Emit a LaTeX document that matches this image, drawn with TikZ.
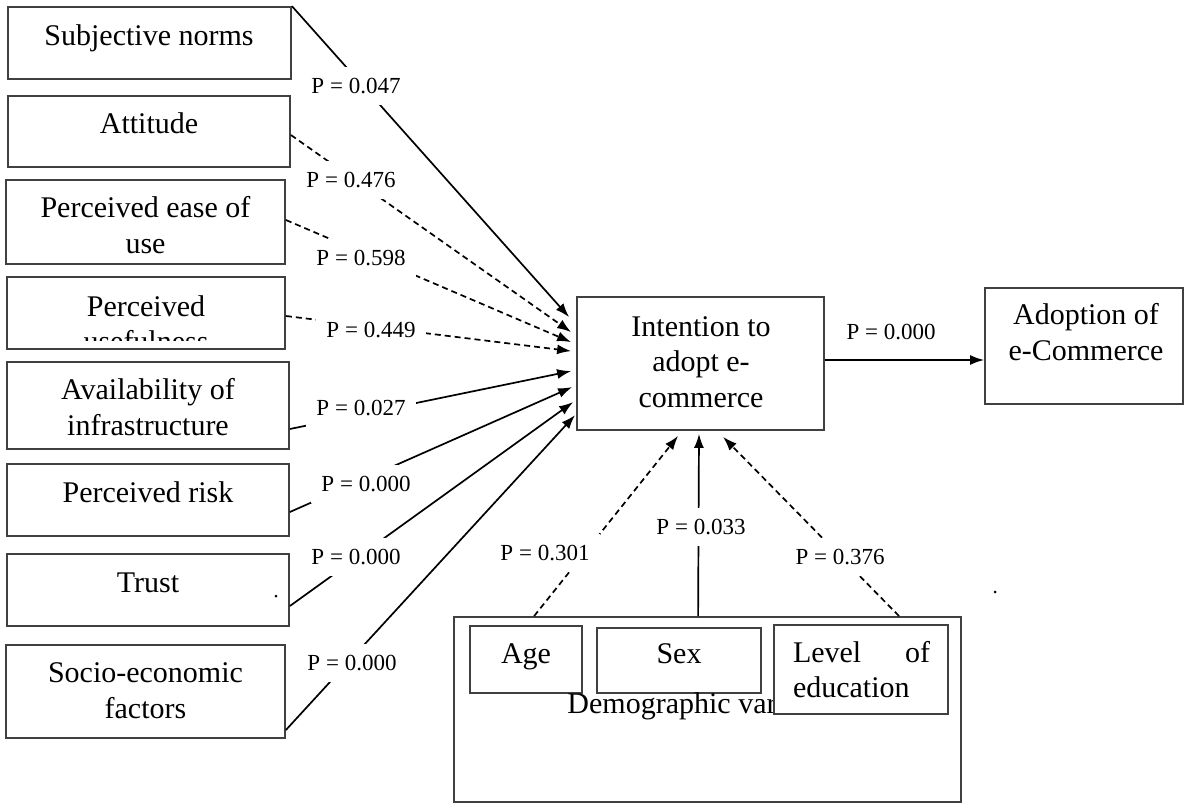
\documentclass[tikz,border=0pt]{standalone}
\usepackage{fontspec}
\setmainfont{Liberation Serif}
\usetikzlibrary{arrows.meta}
\begin{document}
\begin{tikzpicture}[x=1pt,y=-1pt,
  box/.style={draw=black!75, line width=1.8pt, inner sep=0pt, rectangle},
  boxtext/.style={font=\fontsize{30}{35.5}\selectfont, align=center, anchor=base, inner sep=0pt},
  plabel/.style={font=\fontsize{23}{27}\selectfont, fill=white, inner xsep=10pt, inner ysep=11pt},
  conn/.style={line width=1.7pt, -{Latex[length=14pt,width=10pt]}},
  dconn/.style={conn, dash pattern=on 6pt off 4pt},
]
\useasboundingbox (0,0) rectangle (1195,806);

% left boxes
\node[box, minimum width=283pt, minimum height=72pt] (sn) at (149.5,43) {};
\node[box, minimum width=282pt, minimum height=71pt] (att) at (149,131.5) {};
\node[box, minimum width=279pt, minimum height=84pt] (peou) at (145.5,222) {};
\node[box, minimum width=278pt, minimum height=72pt] (pu) at (146,313) {};
\node[box, minimum width=282pt, minimum height=87pt] (avail) at (148,405.5) {};
\node[box, minimum width=282pt, minimum height=72pt] (risk) at (148,500) {};
\node[box, minimum width=282pt, minimum height=72pt] (trust) at (148,590) {};
\node[box, minimum width=279pt, minimum height=93pt] (socio) at (145.5,691.5) {};

% (base anchor of a multi-line text = baseline of its last line)
\node[boxtext] (tsn) at (149,45) {Subjective norms};
\node[boxtext] (tatt) at (149,133) {Attitude};
\node[boxtext] (tpeou) at (145.5,253) {Perceived ease of\\use};
\begin{scope}
  \clip (pu.north west) rectangle ([yshift=9.5pt]pu.south east);
  \node[boxtext] (tpu) at (146,351.5) {Perceived\\usefulness};
\end{scope}
\node[boxtext] (tavail) at (148,435) {Availability of\\infrastructure};
\node[boxtext] (trisk) at (148,502) {Perceived risk};
\node[boxtext] (ttrust) at (148,592) {Trust};
\node[boxtext] (tsocio) at (145.5,718) {Socio-economic\\factors};

% centre and right
\node[box, minimum width=247pt, minimum height=133pt] (int) at (700.5,363.5) {};
\node[boxtext] (tint) at (701,407) {Intention to\\adopt e-\\commerce};
\node[box, minimum width=198pt, minimum height=116pt] (adopt) at (1084,346) {};
\node[boxtext] (tadopt) at (1086,360) {Adoption of\\e-Commerce};

% demographic
\node[box, minimum width=507pt, minimum height=185pt] (demo) at (707.5,709.5) {};
\node[box, minimum width=112pt, minimum height=67pt] (age) at (526,659.5) {};
\node[box, minimum width=164pt, minimum height=65pt] (sex) at (679,660.5) {};
\node[boxtext] (tdemo) at (707,713) {Demographic variables};
\node[box, fill=white, minimum width=174pt, minimum height=89pt] (edu) at (861,669.5) {};
\node[boxtext] (tage) at (526,663) {Age};
\node[boxtext] (tsex) at (679,663) {Sex};
\node[boxtext, align=left, text width=137pt] (tedu) at (861.5,662) {Level\hfill of\\education};

% connectors from left
\draw[conn] (sn.north east) -- ([xshift=-7pt,yshift=-21pt]int.north west);
\draw[dconn] ([yshift=-3.5pt]att.east) -- ([xshift=-5pt,yshift=-36pt]int.north west);
\draw[dconn] ([yshift=2pt]peou.east) -- ([xshift=-5pt,yshift=-46pt]int.north west);
\draw[dconn] ([yshift=-3pt]pu.east) -- ([xshift=-5pt,yshift=-55pt]int.north west);
\draw[conn] ([yshift=-23.5pt]avail.east) -- ([xshift=-5pt,yshift=-75pt]int.north west);
\draw[conn] ([yshift=-12pt]risk.east) -- ([xshift=-4pt,yshift=-91pt]int.north west);
\draw[conn] ([yshift=-16pt]trust.east) -- ([xshift=-3pt,yshift=-106pt]int.north west);
\draw[conn] ([yshift=-38.5pt]socio.east) -- ([xshift=-1pt,yshift=-119pt]int.north west);

% to adoption
\draw[conn] ([yshift=3.5pt]int.east) -- ([yshift=-14pt]adopt.west);

% from demographics
\draw[dconn] ([xshift=81pt]demo.north west) -- ([xshift=102pt,yshift=-5pt]int.south west);
\draw[conn] ([xshift=245pt]demo.north west) -- ([xshift=-1.5pt,yshift=-3pt]int.south);
\draw[dconn] ([xshift=446pt]demo.north west) -- ([xshift=147pt,yshift=-6pt]int.south west);

% labels
\node[plabel] (p1) at (356,86) {P = 0.047};
\node[plabel] (p2) at (351,180) {P = 0.476};
\node[plabel] (p3) at (361,258) {P = 0.598};
\node[plabel] (p4) at (371,330) {P = 0.449};
\node[plabel] (p5) at (361,408) {P = 0.027};
\node[plabel] (p6) at (366,484) {P = 0.000};
\node[plabel] (p7) at (356,557) {P = 0.000};
\node[plabel] (p8) at (352,663) {P = 0.000};
\node[plabel] (p9) at (891,332) {P = 0.000};
\node[plabel] (p10) at (545,553) {P = 0.301};
\node[plabel] (p11) at (701,527) {P = 0.033};
\node[plabel] (p12) at (840,557) {P = 0.376};

% scan dots
\fill (276,596) circle (1.5pt);
\fill (995,592) circle (1.5pt);
\end{tikzpicture}
\end{document}
